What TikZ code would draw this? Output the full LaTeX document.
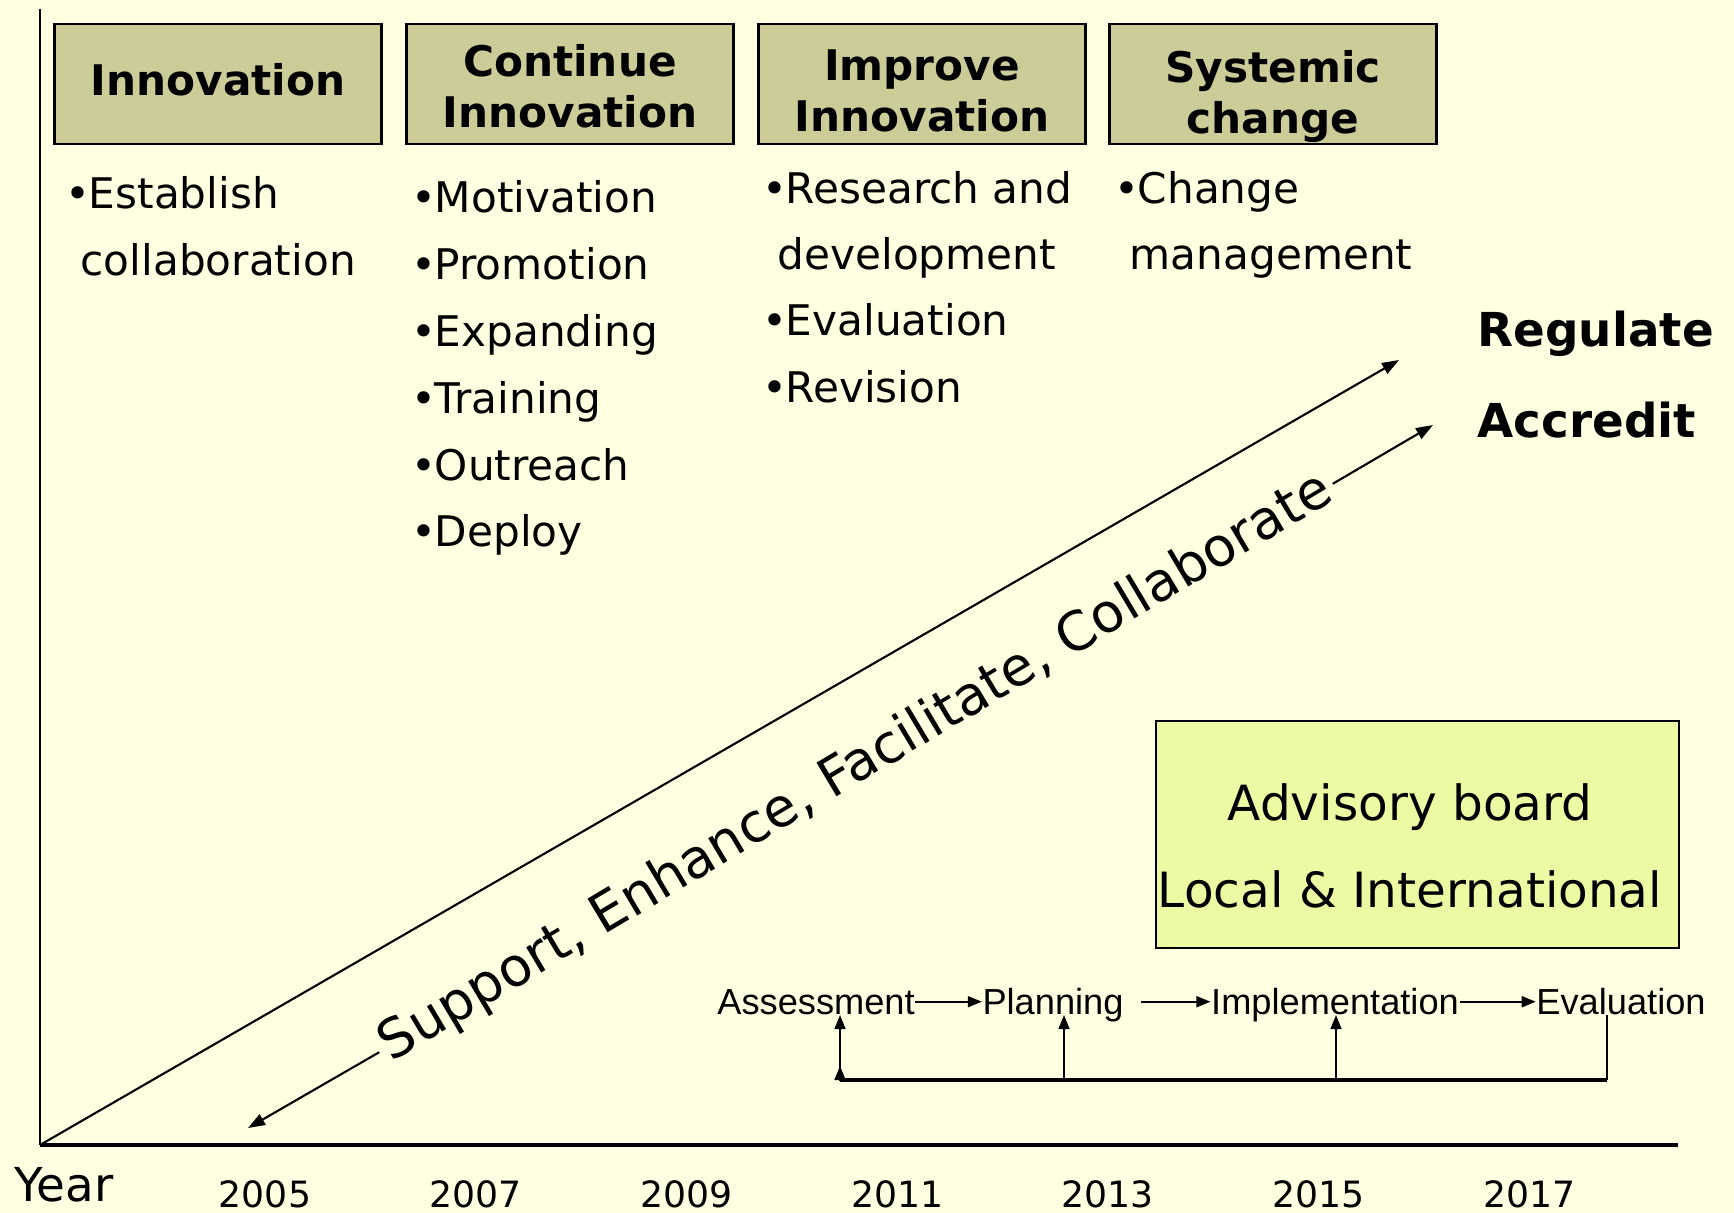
\documentclass[tikz,border=0pt]{standalone}
\usepackage{fontspec}
\setmainfont{DejaVu Sans}
\newfontfamily\arialfont{Liberation Sans}
\usetikzlibrary{arrows.meta}
\definecolor{paper}{RGB}{255,255,225}
\definecolor{khaki}{RGB}{204,204,153}
\definecolor{lime}{RGB}{236,250,163}
\tikzset{phase/.style={draw, line width=0.7pt, fill=khaki, minimum width=3.27cm, minimum height=1.2cm}}
\tikzset{title/.style={align=center, inner sep=0pt, font=\fontsize{12}{14.5}\selectfont\bfseries}}
\tikzset{item/.style={anchor=base west, inner sep=0pt, font=\fontsize{12}{14}\selectfont}}
\tikzset{goal/.style={anchor=west, inner sep=0pt, font=\fontsize{13.3}{16}\selectfont\bfseries}}
\tikzset{year/.style={inner sep=0pt, font=\fontsize{10.3}{12}\selectfont}}
\tikzset{cyc/.style={anchor=base, inner sep=0pt, font=\arialfont\fontsize{10.3}{12}\selectfont}}
\tikzset{long/.style={line width=0.6pt, -{Triangle[length=0.17cm, width=0.12cm]}}}
\tikzset{short/.style={line width=0.5pt, -{Triangle[length=0.14cm, width=0.11cm]}}}
\newcommand{\bul}{•\kern-0.5pt}

\begin{document}
\begin{tikzpicture}[x=0.01cm, y=-0.01cm]
\fill[paper] (0,0) rectangle (1734,1213);
\useasboundingbox (0,0) rectangle (1734,1213);
% axes
\coordinate (origin) at (40,1145);
\draw[line width=0.6pt] (40,9) -- (origin);
\draw[line width=0.9pt] (origin) -- (1678,1145);
\node[font=\fontsize{13.3}{16}\selectfont, inner sep=0pt] (yearlbl) at (64,1185) {Year};
\foreach \yr [count=\i from 0] in {2005,2007,...,2017}
  \node[year] (y\yr) at ({265+210.7*\i},1194) {\yr};
% phases
\node[phase] (innov) at (218,84) {};
\node[phase] (cont) at (570,84) {};
\node[phase] (impr) at (922,84) {};
\node[phase] (syst) at (1273,84) {};
\node[title] (t1) at (218,80) {Innovation};
\node[title] (t2) at (570,86) {Continue\\Innovation};
\node[title] (t3) at (922,91) {Improve\\Innovation};
\node[title] (t4) at (1273,97) {Systemic\\change};
% bullet lists
\node[item] (est1) at (65,209) {\bul Establish};
\node[item] (est2) at (80,276) {collaboration};
\foreach \txt [count=\i from 0] in {Motivation,Promotion,Expanding,Training,Outreach,Deploy}
  \node[item] (ci\i) at (411,{213+66.8*\i}) {\bul\txt};
\node[item] (rd1) at (762,204) {\bul Research and};
\node[item] (rd2) at (777,270) {development};
\node[item] (ev) at (762,336) {\bul Evaluation};
\node[item] (rv) at (762,403) {\bul Revision};
\node[item] (ch1) at (1114,204) {\bul Change};
\node[item] (ch2) at (1129,270) {management};
% goals
\node[goal] (reg) at (1477,334) {Regulate};
\node[goal] (acc) at (1477,420) {Accredit};
% diagonals
\coordinate (tipA) at (1399,360);
\draw[long] (origin) -- (tipA);
\node[rotate=30.8, inner sep=0.05cm, font=\fontsize{15.3}{18}\selectfont] (slogan) at (856,768) {Support, Enhance, Facilitate, Collaborate};
\coordinate (tipB) at (1433,425);
\coordinate (tipC) at (248,1128);
\draw[long] (slogan.east) -- (tipB);
\draw[long] (slogan.west) -- (tipC);
% advisory board
\node[draw, line width=0.7pt, fill=lime, minimum width=5.23cm, minimum height=2.27cm] (board) at (1417.5,834.5) {};
\node[align=center, font=\fontsize{13.8}{24.7}\selectfont] (boardtxt) at (1410,846) {Advisory board\\Local \& International};
% cycle
\node[cyc] (assess) at (816,1014) {Assessment};
\node[cyc] (plan) at (1053,1014) {Planning};
\node[cyc] (impl) at (1335,1014) {Implementation};
\node[cyc] (evalu) at (1621,1014) {Evaluation};
\draw[short] (assess.east) -- (assess.east -| plan.west);
\draw[short, shorten <=0.17cm] (plan.east |- assess.east) -- (assess.east -| impl.west);
\draw[short] (impl.east |- assess.east) -- (assess.east -| evalu.west);
\coordinate (fbA) at (840,1080);
\coordinate (fbP) at (1064,1080);
\coordinate (fbI) at (1336,1080);
\coordinate (fbE) at (1607,1080);
\draw[line width=0.9pt] (fbA) -- (fbE);
\draw[line width=0.5pt] (fbE) -- (fbE |- assess.south);
\draw[short] (fbA) -- (fbA |- assess.south);
\draw[short] (fbA) -- ++(0,-14);
\draw[short] (fbP) -- (fbP |- assess.south);
\draw[short] (fbI) -- (fbI |- assess.south);
\end{tikzpicture}
\end{document}
